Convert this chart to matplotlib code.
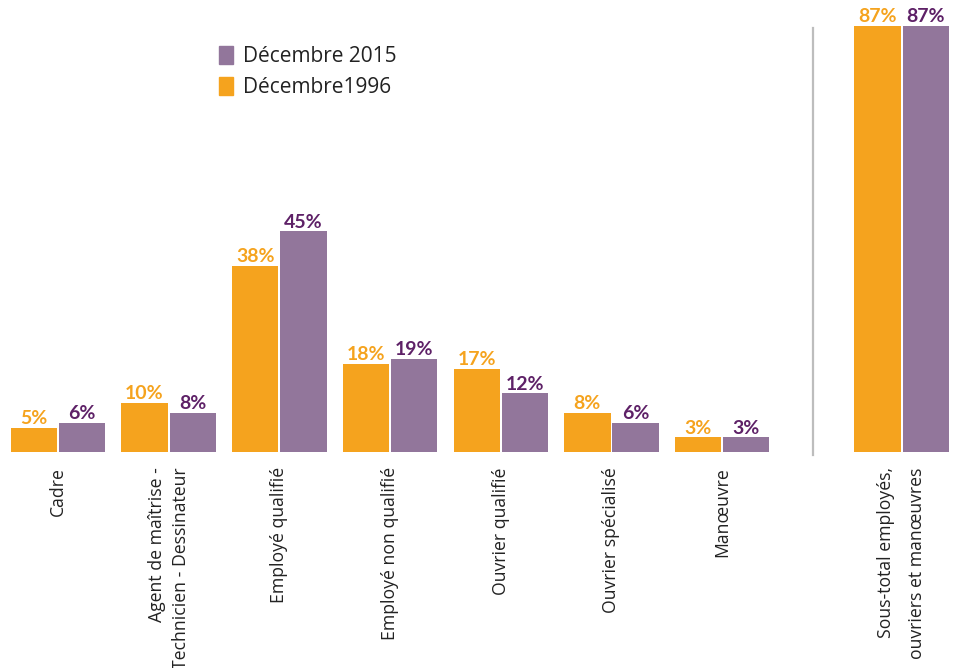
import matplotlib
matplotlib.use("Agg")
import matplotlib.pyplot as plt
from matplotlib.patches import Patch

plt.rcParams['font.family'] = ['Open Sans', 'DejaVu Sans']

categories = ["Cadre", "Agent de maîtrise -\nTechnicien - Dessinateur", "Employé qualifié",
              "Employé non qualifié", "Ouvrier qualifié", "Ouvrier spécialisé", "Manœuvre",
              "Sous-total employés,\nouvriers et manœuvres"]
values_1996 = [5, 10, 38, 18, 17, 8, 3, 87]
values_2015 = [6, 8, 45, 19, 12, 6, 3, 87]
positions = [0, 1, 2, 3, 4, 5, 6, 7.62]
separator_x = 6.82

ORANGE = "#F5A31E"
PURPLE = "#92769B"
PURPLE_TXT = "#5E2167"

W, H = 957, 668
fig = plt.figure(figsize=(W / 100, H / 100), dpi=100)
base_px = 452
px_per_unit = 110.7
ax = fig.add_axes([0, (H - base_px) / H, 1, base_px / H])
x0 = 58
ax.set_xlim(-x0 / px_per_unit, (W - x0) / px_per_unit)
ax.set_ylim(0, base_px / 4.9)

bw = 0.418
off = 0.218
b1 = ax.bar([p - off for p in positions], values_1996, width=bw, color=ORANGE, label="Décembre1996")
b2 = ax.bar([p + off for p in positions], values_2015, width=bw, color=PURPLE, label="Décembre 2015")

lab_font = dict(fontsize=14, fontweight="bold", family=["Lato", "DejaVu Sans"])
for rect, v in zip(b1, values_1996):
    ax.annotate(f"{v}%", (rect.get_x() + rect.get_width() / 2, rect.get_height()),
                xytext=(0, 0.5), textcoords="offset points", ha="center", va="bottom",
                color=ORANGE, **lab_font)
for rect, v in zip(b2, values_2015):
    ax.annotate(f"{v}%", (rect.get_x() + rect.get_width() / 2, rect.get_height()),
                xytext=(0, 0.5), textcoords="offset points", ha="center", va="bottom",
                color=PURPLE_TXT, **lab_font)

ax.plot([separator_x, separator_x], [-0.7, 86.5], color="#BDBDBD", lw=1.6, clip_on=False)

ax.set_xticks(positions)
ax.set_xticklabels(categories, rotation=90, ha="center", va="top", fontsize=12.7,
                   color="#222222", multialignment="right")
ax.tick_params(axis="x", length=0, pad=11)
labels = ax.get_xticklabels()
labels[1].set_linespacing(1.45)
labels[7].set_linespacing(1.95)
ax.set_yticks([])
for s in ax.spines.values():
    s.set_visible(False)

handles = [Patch(color=PURPLE), Patch(color=ORANGE)]
fig.legend(handles, ["Décembre 2015", "Décembre1996"], loc="upper left",
           bbox_to_anchor=(213 / W, 1 - 40 / H), frameon=False, fontsize=15,
           handlelength=0.65, handleheight=0.95, handletextpad=0.5, labelspacing=0.45,
           borderaxespad=0, borderpad=0.3, labelcolor="#222222")

fig.savefig("out.png", dpi=100)
